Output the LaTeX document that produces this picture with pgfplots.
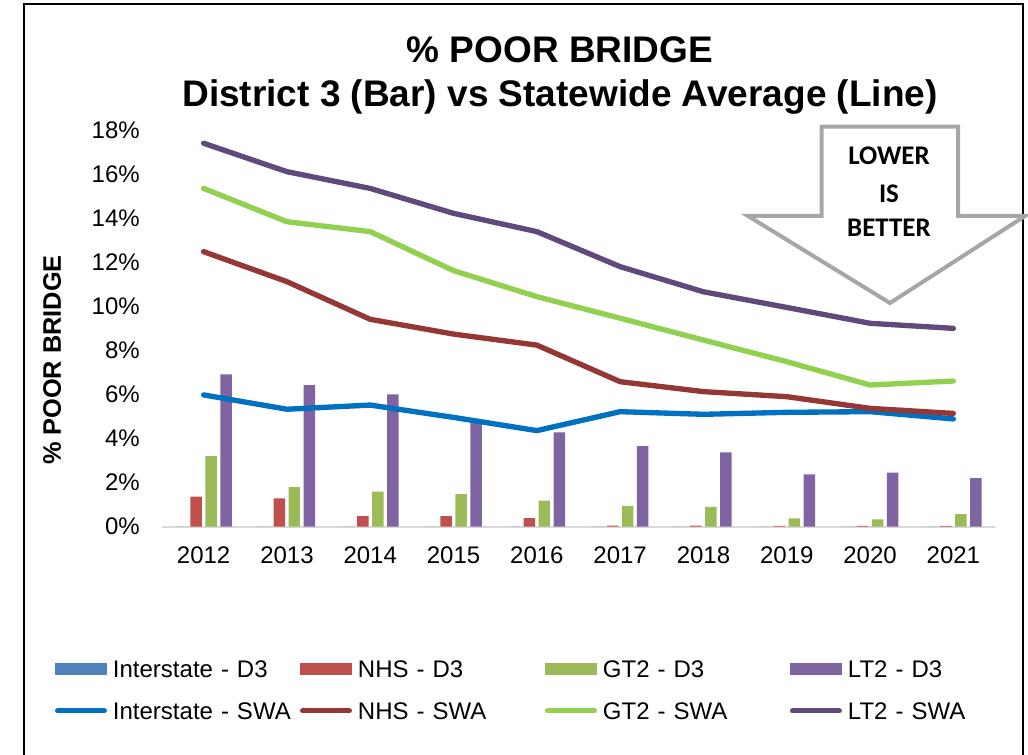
\documentclass[border=0pt]{standalone}
\usepackage{fontspec}
\setmainfont{Liberation Sans}
\newfontfamily\calibri{Carlito}
\usepackage{pgfplots}
\usepackage{pgfplotstable}
\pgfplotsset{compat=1.18}

\definecolor{barI}{HTML}{4F81BD}
\definecolor{barN}{HTML}{C0504D}
\definecolor{barG}{HTML}{9BBB59}
\definecolor{barL}{HTML}{8064A2}
\definecolor{lineI}{HTML}{0070C0}
\definecolor{lineN}{HTML}{953735}
\definecolor{lineG}{HTML}{92D050}
\definecolor{lineL}{HTML}{604A7B}
\definecolor{arrowgray}{HTML}{A6A6A6}
\definecolor{axisgray}{HTML}{D9D9D9}

% District 3 bars (percent)
\pgfplotstableread{
x I N G L
0 0 1.36 3.20 6.91
1 0 1.29 1.80 6.43
2 0 0.48 1.59 6.00
3 0 0.48 1.48 4.88
4 0 0.39 1.18 4.28
5 0 0.05 0.94 3.66
6 0 0.05 0.90 3.37
7 0 0.04 0.38 2.38
8 0 0.04 0.33 2.45
9 0 0.04 0.57 2.20
}\barsD

% Statewide average lines (percent)
\pgfplotstableread{
x I N G L
0 5.98 12.48 15.35 17.40
1 5.33 11.12 13.84 16.11
2 5.52 9.41 13.39 15.35
3 4.96 8.74 11.62 14.22
4 4.36 8.24 10.44 13.39
5 5.22 6.58 9.46 11.80
6 5.10 6.13 8.47 10.66
7 5.19 5.90 7.49 9.95
8 5.22 5.37 6.43 9.23
9 4.89 5.14 6.61 9.00
}\linesSWA

\pgfplotsset{
  barleg/.style={legend image code/.code={\fill[##1] (0pt,1.95pt) rectangle (39pt,10.95pt);}},
  lineleg/.style={legend image code/.code={\draw[##1, line width=3.75pt, line cap=round] (1.9pt,6.45pt) -- (37.1pt,6.45pt);}},
  mybar/.style={ybar, bar width=8.625pt, draw=none, fill=#1, barleg},
  myline/.style={color=#1, line width=4pt, line cap=round, line join=round, mark=none, lineleg},
}

\begin{document}
\begin{tikzpicture}
\useasboundingbox (0,0) rectangle (771pt,-566.25pt);
\begin{axis}[
  at={(121.5pt,-395.025pt)}, anchor=south west,
  scale only axis, width=624.75pt, height=297.5pt,
  xmin=-0.5, xmax=9.5, ymin=0, ymax=18,
  clip=false,
  xtick={0,1,2,3,4,5,6,7,8,9},
  xticklabels={2012,2013,2014,2015,2016,2017,2018,2019,2020,2021},
  ytick={0,2,4,6,8,10,12,14,16,18},
  yticklabels={0\%,2\%,4\%,6\%,8\%,10\%,12\%,14\%,16\%,18\%},
  separate axis lines,
  axis x line*=bottom, axis y line*=left,
  x axis line style={color=axisgray, line width=1.2pt, -},
  y axis line style={draw=none},
  major tick length=0pt, tick style={draw=none},
  xticklabel style={font=\fontsize{18}{21}\selectfont, inner sep=0pt, anchor=north, yshift=-15pt},
  yticklabel style={font=\fontsize{18}{21}\selectfont, inner sep=0pt, anchor=east, xshift=-16.5pt},
  ylabel={\% POOR BRIDGE},
  ylabel style={at={(axis description cs:-0.132,0.420)}, anchor=center, font=\bfseries\fontsize{19}{22}\selectfont},
  legend columns=4,
  legend cell align=left,
  legend style={at={(axis description cs:-0.1285,-0.340)}, anchor=north west,
    draw=none, fill=none, inner sep=0pt, outer sep=0pt,
    font=\fontsize{18}{21}\selectfont,
    column sep=0pt, row sep=15.5pt,
    /tikz/every odd column/.append style={column sep=4.5pt},
    cells={anchor=base west},
    nodes={inner sep=0pt, text width=140.25pt, align=left, text height=12pt, text depth=4pt}},
]
\addplot[mybar=barI, bar shift=-16.875pt] table[x=x, y=I] {\barsD};
\addlegendentry{Interstate - D3}
\addplot[mybar=barN, bar shift=-5.625pt] table[x=x, y=N] {\barsD};
\addlegendentry{NHS - D3}
\addplot[mybar=barG, bar shift=5.625pt] table[x=x, y=G] {\barsD};
\addlegendentry{GT2 - D3}
\addplot[mybar=barL, bar shift=16.875pt] table[x=x, y=L] {\barsD};
\addlegendentry{LT2 - D3}
\addplot[myline=lineI] table[x=x, y=I] {\linesSWA};
\addlegendentry{Interstate - SWA}
\addplot[myline=lineN] table[x=x, y=N] {\linesSWA};
\addlegendentry{NHS - SWA}
\addplot[myline=lineG] table[x=x, y=G] {\linesSWA};
\addlegendentry{GT2 - SWA}
\addplot[myline=lineL] table[x=x, y=L] {\linesSWA};
\addlegendentry{LT2 - SWA}
\end{axis}
\begin{scope}[x=0.75pt, y=-0.75pt]
  % frame
  \draw[line width=1.5pt] (24,760) -- (24,4) -- (1023,4) -- (1023,760);
  % title
  \node[anchor=base, inner sep=0pt, font=\bfseries\fontsize{27.75}{32}\selectfont] at (560,63) {\% POOR BRIDGE};
  \node[anchor=base, inner sep=0pt, font=\bfseries\fontsize{27.75}{32}\selectfont] at (560,107) {District 3 (Bar) vs Statewide Average (Line)};
  % arrow
  \draw[arrowgray, line width=3pt, fill=white, line join=miter]
    (821.7,126.7) -- (958,126.7) -- (958,216) -- (1025,216) -- (890,303) -- (748,216) -- (821.7,216) -- cycle;
  \node[anchor=base, inner sep=0pt, font=\calibri\bfseries\fontsize{20.2}{24}\selectfont] at (889,165) {LOWER};
  \node[anchor=base, inner sep=0pt, font=\calibri\bfseries\fontsize{20.2}{24}\selectfont] at (889,203) {IS};
  \node[anchor=base, inner sep=0pt, font=\calibri\bfseries\fontsize{20.2}{24}\selectfont] at (889,237) {BETTER};
\end{scope}
\end{tikzpicture}
\end{document}
